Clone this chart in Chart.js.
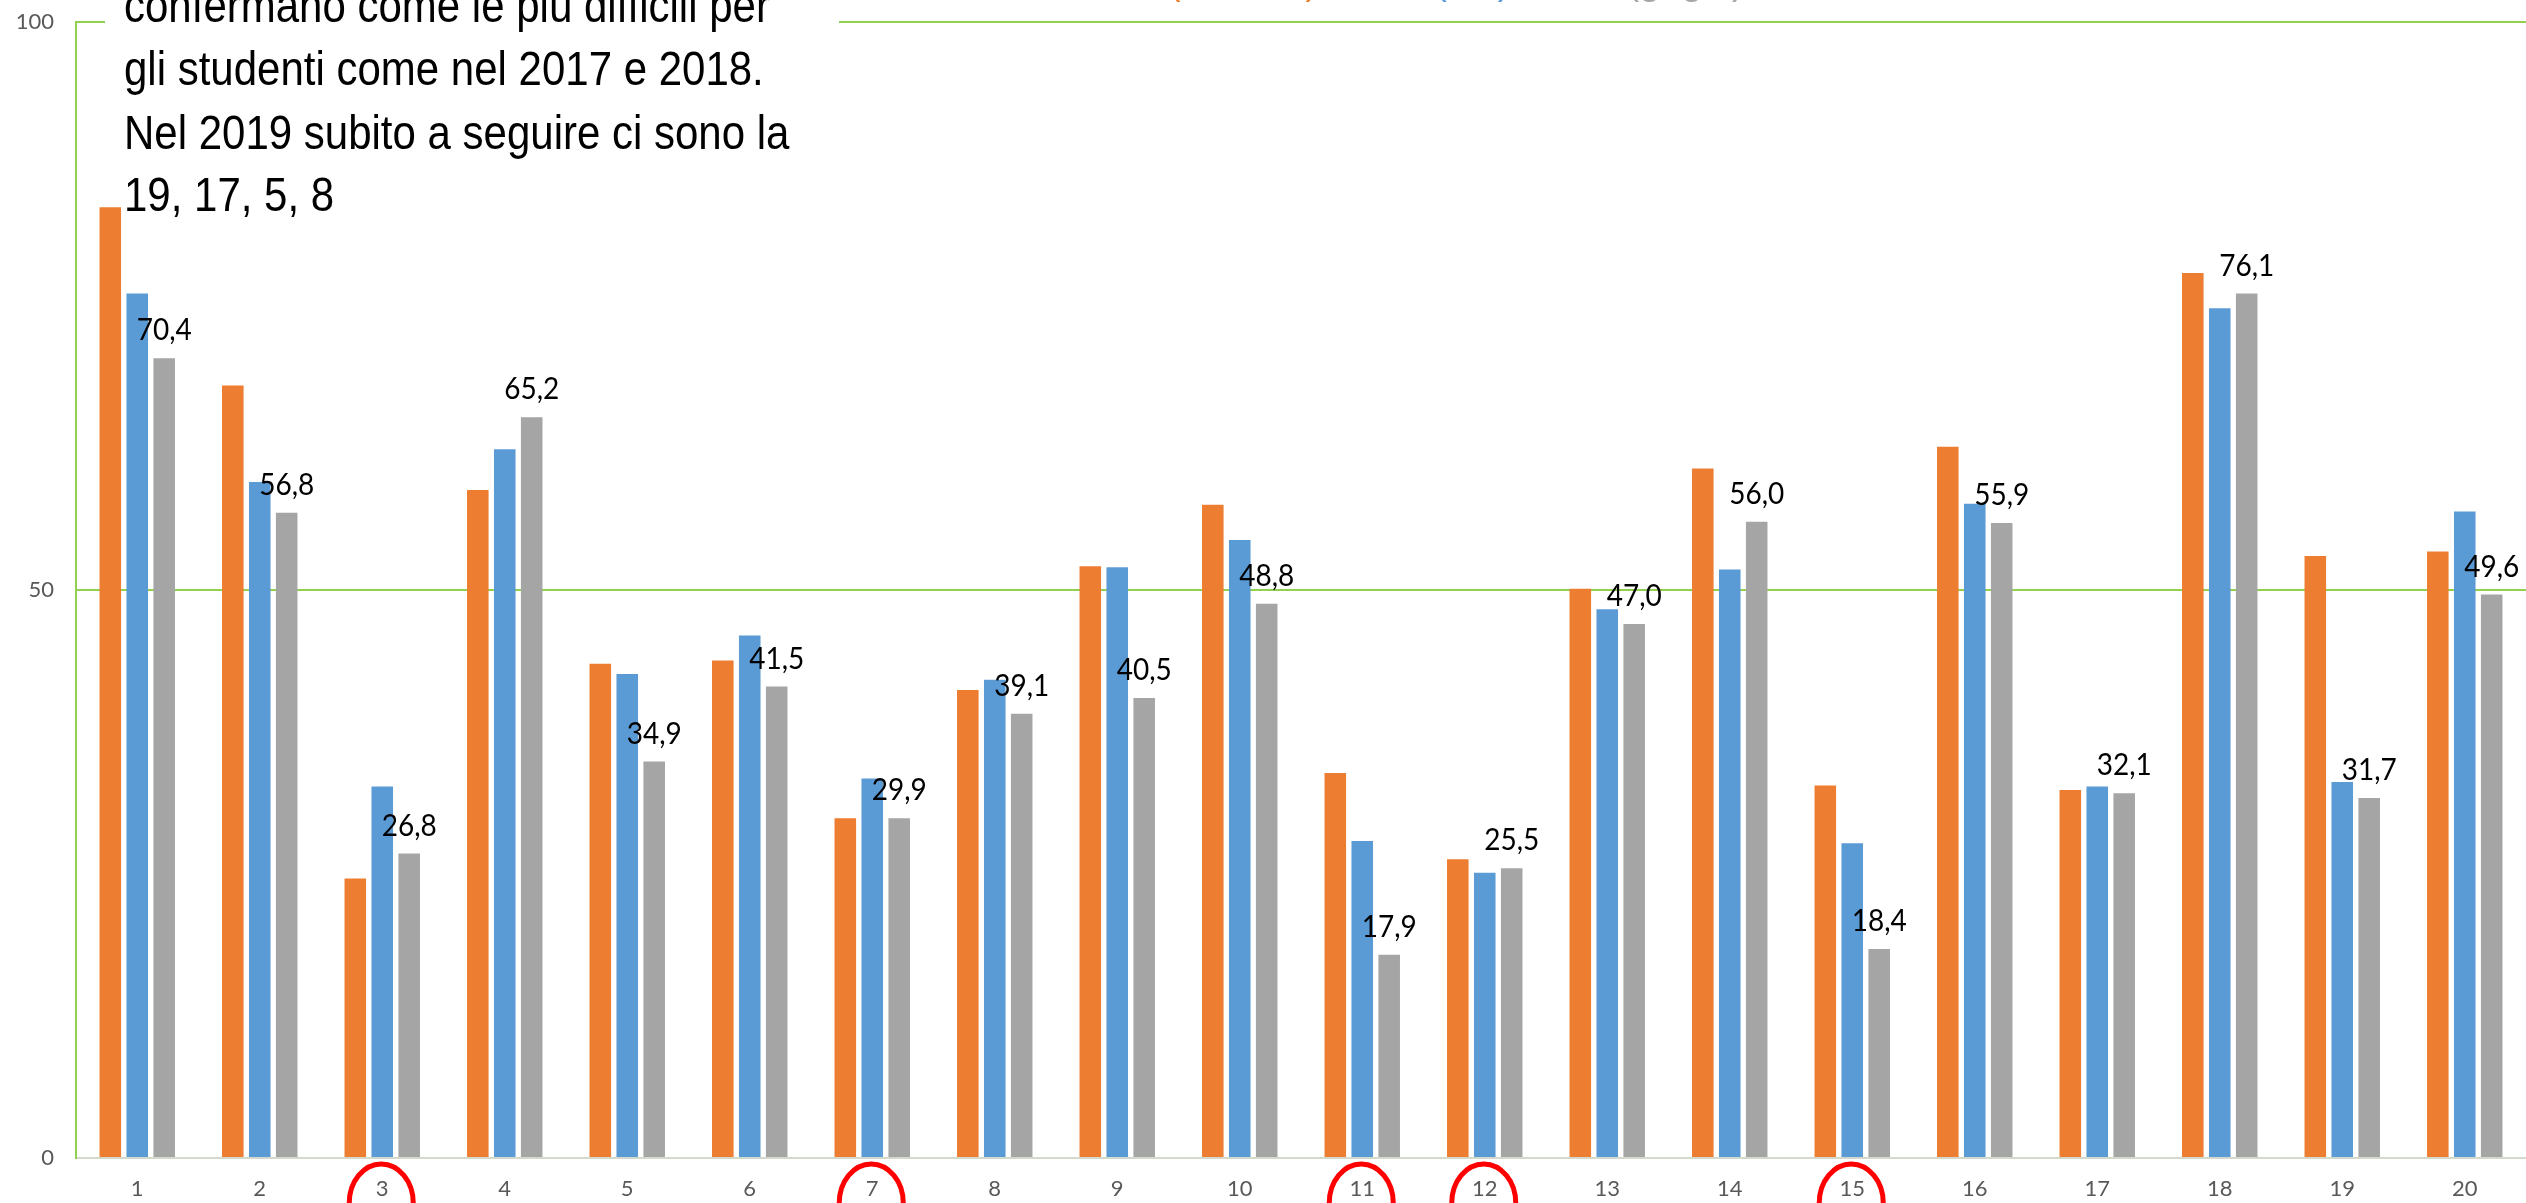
<!DOCTYPE html>
<html lang="it">
<head>
<meta charset="utf-8">
<title>Domande - confronto 2017 2018 2019</title>
<script src="https://cdn.jsdelivr.net/npm/chart.js@4.4.1/dist/chart.umd.min.js"></script>
<style>
  html, body { margin: 0; padding: 0; background: #fff; overflow: hidden; }
  #contenitore { position: relative; width: 2526px; height: 1203px; overflow: hidden; }
  #grafico { position: absolute; left: 0; top: 0; }
  #nota {
    position: absolute; left: 105px; top: -25px; width: 715px; height: 200px;
    padding-left: 19px; background: #fff;
    font-family: "Liberation Sans", Arial, sans-serif; font-size: 42px; line-height: 54.8px;
    color: #000; white-space: nowrap;
    transform: scaleY(1.15); transform-origin: 0 0;
  }
  #legenda {
    position: absolute; left: 1073px; top: -38px;
    font-family: "Liberation Sans", Arial, sans-serif; font-size: 38px; line-height: 38px;
    color: #595959; white-space: nowrap;
  }
</style>
</head>
<body>
<div id="contenitore">
  <canvas id="grafico" width="2526" height="1203"></canvas>
  <div id="legenda">2017 <span style="color:#ED7D31">(arancio)</span>, 2018 <span style="color:#5B9BD5">(blu)</span>, 2019 <span style="color:#A5A5A5">(grigio)</span></div>
  <div id="nota">confermano come le più difficili per<br>gli studenti come nel 2017 e 2018.<br>Nel 2019 subito a seguire ci sono la<br>19, 17, 5, 8</div>
</div>
<script>
// Dati (percentuale di risposte corrette per domanda)
const domande = ['1', '2', '3', '4', '5', '6', '7', '8', '9', '10', '11', '12', '13', '14', '15', '16', '17', '18', '19', '20'];
const valori2017 = [83.7, 68.0, 24.6, 58.8, 43.5, 43.8, 29.9, 41.2, 52.1, 57.5, 33.9, 26.3, 50.1, 60.7, 32.8, 62.6, 32.4, 77.9, 53.0, 53.4];
const valori2018 = [76.1, 59.5, 32.7, 62.4, 42.6, 46.0, 33.4, 42.1, 52.0, 54.4, 27.9, 25.1, 48.3, 51.8, 27.7, 57.6, 32.7, 74.8, 33.1, 56.9];
const valori2019 = [70.4, 56.8, 26.8, 65.2, 34.9, 41.5, 29.9, 39.1, 40.5, 48.8, 17.9, 25.5, 47.0, 56.0, 18.4, 55.9, 32.1, 76.1, 31.7, 49.6];
const tickY = [0, 50, 100];
// domande evidenziate con il cerchio rosso
const domandeCerchiate = ['3', '7', '11', '12', '15'];

const VERDE = '#92D050';
const GRIGIO_TESTO = '#595959';

// Etichette sopra le barre grigie (2019), con la virgola decimale
const etichette2019 = {
  id: 'etichette2019',
  afterDatasetsDraw(chart) {
    const ctx = chart.ctx;
    const meta = chart.getDatasetMeta(2);
    ctx.save();
    ctx.font = '28px Lato, "Liberation Sans", sans-serif';
    ctx.fillStyle = '#000';
    ctx.textAlign = 'center';
    ctx.textBaseline = 'alphabetic';
    meta.data.forEach((barra, i) => {
      const testo = valori2019[i].toFixed(1).replace('.', ',');
      ctx.save();
      ctx.translate(barra.x, barra.y - 18);
      ctx.scale(1, 1.12); // il testo originale è un po' allungato in verticale
      ctx.fillText(testo, 0, 0);
      ctx.restore();
    });
    ctx.restore();
  }
};

// Cerchi rossi attorno ad alcune etichette dell'asse x
const cerchiRossi = {
  id: 'cerchiRossi',
  afterDraw(chart) {
    const ctx = chart.ctx;
    const scalaX = chart.scales.x;
    const cy = chart.chartArea.bottom + 45;
    ctx.save();
    ctx.strokeStyle = '#FF0000';
    ctx.lineWidth = 5;
    domandeCerchiate.forEach(d => {
      const x = scalaX.getPixelForValue(domande.indexOf(d));
      ctx.beginPath();
      ctx.ellipse(x - 1, cy, 32, 39, 0, 0, Math.PI * 2);
      ctx.stroke();
    });
    ctx.restore();
  }
};

const ctx = document.getElementById('grafico').getContext('2d');

new Chart(ctx, {
  type: 'bar',
  data: {
    labels: domande,
    datasets: [
      { label: '2017', data: valori2017, backgroundColor: '#ED7D31' },
      { label: '2018', data: valori2018, backgroundColor: '#5B9BD5' },
      { label: '2019', data: valori2019, backgroundColor: '#A5A5A5' }
    ]
  },
  options: {
    responsive: false,
    devicePixelRatio: 1,
    animation: false,
    datasets: {
      bar: { categoryPercentage: 0.66, barPercentage: 0.8 }
    },
    layout: { padding: { top: 22, left: 0, right: 0, bottom: 0 } },
    plugins: {
      legend: { display: false },
      tooltip: { enabled: false }
    },
    scales: {
      x: {
        grid: { display: false, drawTicks: false },
        border: { display: true, color: '#D3DACB', width: 2 },
        ticks: {
          color: GRIGIO_TESTO,
          font: { family: 'Lato, "Liberation Sans", sans-serif', size: 22 },
          padding: 18,
          maxRotation: 0
        },
        afterFit: scala => { scala.height = 45; }
      },
      y: {
        min: 0,
        max: 100,
        afterBuildTicks: scala => { scala.ticks = tickY.map(v => ({ value: v })); },
        grid: {
          drawTicks: false,
          lineWidth: 2,
          color: c => (c.tick && c.tick.value === 0) ? 'rgba(0,0,0,0)' : VERDE
        },
        border: { display: true, color: VERDE, width: 2 },
        ticks: {
          color: GRIGIO_TESTO,
          font: { family: 'Lato, "Liberation Sans", sans-serif', size: 22 },
          padding: 22
        },
        afterFit: scala => {
          scala.width = 76;
          // niente spazio extra sopra/sotto per le etichette: l'area parte dal margine
          scala.paddingTop = 0;
          scala.paddingBottom = 0;
        }
      }
    }
  },
  plugins: [etichette2019, cerchiRossi]
});
</script>
</body>
</html>
